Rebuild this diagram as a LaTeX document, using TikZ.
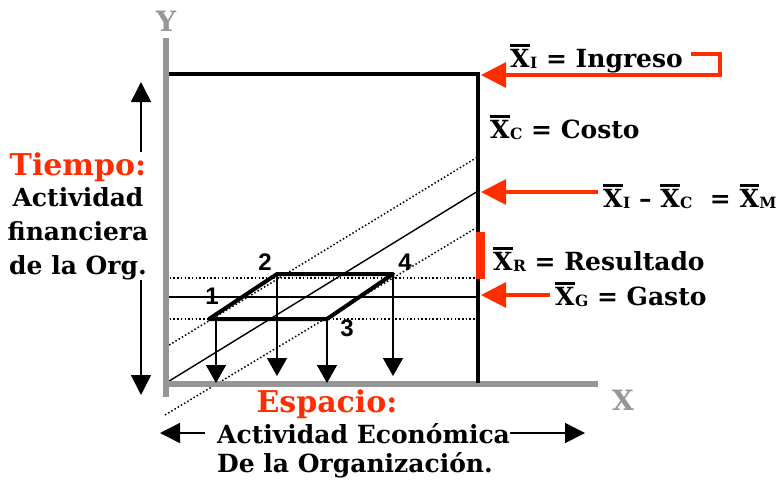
\documentclass[tikz,border=0pt]{standalone}
\usepackage{fontspec}
\setmainfont{DejaVu Serif}
\newfontfamily\numfont{Liberation Sans}
\usetikzlibrary{arrows.meta,positioning}
\definecolor{tagred}{RGB}{255,45,0}
\definecolor{axisgray}{RGB}{150,150,150}
% overlined X with a small index
\newcommand{\xb}[1]{\hbox{\vbox{\hrule height 2.8pt\kern2.2pt\hbox{X}}\kern0.5pt\raisebox{-1pt}{\fontsize{15.5}{15.5}\selectfont #1}}}

\begin{document}
\begin{tikzpicture}[x=1pt, y=-1pt,
    lbl/.style={font=\fontsize{25}{34}\selectfont\bfseries, inner sep=0pt},
    ttl/.style={font=\fontsize{30}{34}\selectfont\bfseries, text=tagred, inner sep=0pt},
    axlbl/.style={font=\fontsize{28}{28}\selectfont\bfseries, text=axisgray, inner sep=0pt},
    num/.style={font=\numfont\fontsize{24}{24}\selectfont\bfseries, inner sep=0pt},
    tip/.style={line width=1.5pt, -{Triangle[width=20pt,length=20pt]}},
    drop/.style={line width=1.5pt, -{Triangle[width=20pt,length=18pt]}},
    tagarrow/.style={draw=tagred, line width=3.2pt, -{Triangle[width=25pt,length=25pt]}},
    dots/.style={line width=1.5pt, dash pattern=on 1.5pt off 2.2pt}]
    \useasboundingbox (0,0) rectangle (781,480);

    % diagonals and levels
    \draw[line width=1.4pt] (166,383) -- (478,191);
    \draw[dots] (166,347) -- (476,158);
    \draw[dots] (165,415) -- (476,228);
    \draw[dots] (166,278) -- (476,278);
    \draw[line width=1.4pt] (166,297) -- (478,297);
    \draw[dots] (166,319) -- (476,319);

    % axes
    \draw[axisgray, line width=6pt] (166,38) -- (166,397);
    \draw[axisgray, line width=6pt] (163,384) -- (598,384);
    \node[axlbl] (ylab) at (166,21) {Y};
    \node[axlbl] (xlab) at (623,400) {X};

    % ingreso frame
    \coordinate (tl) at (169,74);
    \coordinate (tr) at (478,74);
    \coordinate (br) at (478,383);
    \draw[line width=3.5pt] (tl) -- (tr) -- (br);

    % parallelogram 1-2-4-3
    \coordinate (p1) at (209,319);
    \coordinate (p2) at (277,274);
    \coordinate (p4) at (393,274);
    \coordinate (p3) at (327,319);
    \coordinate (d1) at (216,319);
    \draw[line width=4pt, line join=round] (p1) -- (p2) -- (p4) -- (p3) -- cycle;
    \coordinate (ax) at (0,383);
    \coordinate (ax2) at (0,376);
    \foreach \p/\e in {d1/ax, p2/ax2, p3/ax, p4/ax2}
        \draw[drop] (\p) -- (\p |- \e);
    \node[num] (n1) at (212,296) {1};
    \node[num] (n2) at (265,262) {2};
    \node[num] (n3) at (347,328) {3};
    \node[num] (n4) at (405,262) {4};

    % time side
    \node[ttl, anchor=base] (tiempo) at (78,175) {Tiempo:};
    \node[lbl, align=center, below=6pt of tiempo] (financiera) {Actividad\\financiera\\de la Org.};
    \coordinate (tup) at (141,82);
    \coordinate (tdown) at (141,395);
    \draw[tip] (tiempo.north -| tup) -- (tup);
    \draw[tip] (financiera.south -| tdown) -- (tdown);

    % space side
    \node[ttl, anchor=base] (espacio) at (327,412) {Espacio:};
    \node[lbl, anchor=base west] (econ) at (217,443) {Actividad Económica};
    \node[lbl, anchor=base west] (org) at (217,472) {De la Organización.};
    \coordinate (eleft) at (160,433);
    \coordinate (eright) at (585,433);
    \path (econ.west) ++(-12,0) coordinate (ew);
    \draw[tip] (ew |- eleft) -- (eleft);
    \draw[tip] (econ.east |- eright) -- (eright);

    % labels on the right
    \node[lbl, anchor=base west] (xi) at (510,67) {\xb{I} = Ingreso};
    \node[lbl, anchor=base west] (xc) at (490,138) {\xb{C} = Costo};
    \node[lbl, anchor=base west] (xm) at (603,207) {\xb{I} -- \xb{C} \ = \xb{M}};
    \node[lbl, anchor=base west] (xr) at (493,270) {\xb{R} = Resultado};
    \node[lbl, anchor=base west] (xg) at (555,305) {\xb{G} = Gasto};

    % red markers
    \coordinate (ci) at (481,75);
    \coordinate (cm) at (481,192);
    \coordinate (cg) at (481,295);
    \coordinate (ibend) at (720,54);
    \draw[tagarrow] (xi.east |- ibend) ++(8,0) -- (ibend) |- (ci);
    \draw[tagarrow] (xm.west |- cm) ++(-5,0) -- (cm);
    \draw[tagarrow] (xg.west |- cg) ++(-5,0) -- (cg);
    \fill[tagred] (476,232) rectangle (485,279);
\end{tikzpicture}
\end{document}
